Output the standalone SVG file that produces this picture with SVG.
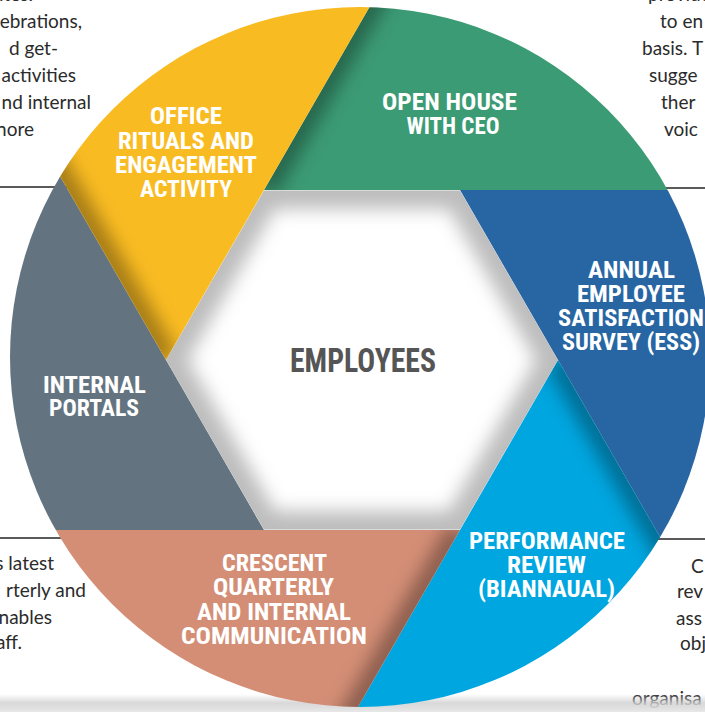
<svg xmlns="http://www.w3.org/2000/svg" width="705" height="712" viewBox="0 0 705 712">
<style>
.lbl{font-family:"Roboto Condensed","Liberation Sans Narrow",Roboto,"Liberation Sans",sans-serif;font-weight:700;font-size:23.5px;fill:#ffffff;text-anchor:middle}
.ctr{font-family:"Roboto Condensed","Liberation Sans Narrow",Roboto,"Liberation Sans",sans-serif;font-weight:700;font-size:34px;fill:#555555;text-anchor:middle}
.side{font-family:Lato,"Noto Sans","Liberation Sans",sans-serif;font-size:19px;fill:#2b2b2b}
.sep{stroke:#5a5a5a;stroke-width:2}
.shd{stroke:#000;stroke-opacity:0.35;stroke-width:26;fill:none}
</style>
<defs>
<clipPath id="circ"><circle cx="360" cy="357" r="350"/></clipPath>
<clipPath id="hexclip"><polygon points="264,190.3 460,190.3 558,360 460,529.7 264,529.7 166,360"/></clipPath>
<clipPath id="cg"><polygon points="264,190 558,-320 1000,-320 1000,190 460,190"/></clipPath>
<clipPath id="cb"><polygon points="460,190 1000,190 1000,870 852,870 558,360"/></clipPath>
<clipPath id="cc"><polygon points="558,360 852,870 852,1040 166,1040 460,530"/></clipPath>
<clipPath id="cs"><polygon points="460,530 166,1040 -300,1040 -300,530 264,530"/></clipPath>
<clipPath id="cy2"><polygon points="264,530 -300,530 -300,-150 -128,-150 166,360"/></clipPath>
<clipPath id="co"><polygon points="166,360 -128,-150 -128,-320 558,-320 264,190"/></clipPath>
<filter id="blur" x="-50%" y="-50%" width="200%" height="200%"><feGaussianBlur stdDeviation="9"/></filter>
<filter id="blur2" x="-20%" y="-20%" width="140%" height="140%"><feGaussianBlur stdDeviation="9"/></filter>
<linearGradient id="bottomShade" x1="0" y1="0" x2="0" y2="1">
<stop offset="0" stop-color="#d0d0d0" stop-opacity="0"/>
<stop offset="0.5" stop-color="#cfcfcf" stop-opacity="0.8"/>
<stop offset="1" stop-color="#e8e8e8" stop-opacity="1"/>
</linearGradient>
</defs>
<rect width="705" height="712" fill="#ffffff"/>

<g id="side-text">
<line class="sep" x1="0" y1="187" x2="70" y2="187"/>
<line class="sep" x1="650" y1="188" x2="705" y2="188"/>
<line class="sep" x1="0" y1="538" x2="70" y2="538"/>
<line class="sep" x1="640" y1="539" x2="705" y2="539"/>
<text class="side" x="33" y="1" text-anchor="end">sites.</text>
<text class="side" x="82" y="28" text-anchor="end">ebrations,</text>
<text class="side" x="58" y="55" text-anchor="end">d get-</text>
<text class="side" x="76" y="82" text-anchor="end">activities</text>
<text class="side" x="91" y="109" text-anchor="end">nd internal</text>
<text class="side" x="34" y="136" text-anchor="end">nore</text>
<text class="side" x="648" y="1">provide</text>
<text class="side" x="660" y="28">to en</text>
<text class="side" x="642" y="55">basis. T</text>
<text class="side" x="649" y="82">sugge</text>
<text class="side" x="661" y="109">ther</text>
<text class="side" x="664" y="136">voic</text>
<text class="side" x="54" y="570" text-anchor="end">s latest</text>
<text class="side" x="86" y="597" text-anchor="end">rterly and</text>
<text class="side" x="52" y="624" text-anchor="end">nables</text>
<text class="side" x="22" y="649" text-anchor="end">aff.</text>
<text class="side" x="691" y="573">C</text>
<text class="side" x="677" y="598">rev</text>
<text class="side" x="676" y="625">ass</text>
<text class="side" x="680" y="650">obj</text>
<text class="side" x="632" y="705">organisa</text>
</g>

<rect x="0" y="694" width="705" height="18" fill="url(#bottomShade)"/>

<g id="wheel" clip-path="url(#circ)">
<g id="seg-open-house">
<polygon points="264,190 558,-320 1000,-320 1000,190 460,190" fill="#3b9b74"/>
<g clip-path="url(#cg)"><line class="shd" x1="264" y1="190" x2="558" y2="-320" filter="url(#blur)"/></g>
<text class="lbl" x="449.5" y="110" textLength="135" lengthAdjust="spacingAndGlyphs">OPEN HOUSE</text>
<text class="lbl" x="453" y="134" textLength="93" lengthAdjust="spacingAndGlyphs">WITH CEO</text>
</g>
<g id="seg-ess">
<polygon points="460,190 1000,190 1000,870 852,870 558,360" fill="#2766a3"/>
<g clip-path="url(#cb)"><line class="shd" x1="460" y1="190" x2="1000" y2="190" filter="url(#blur)"/></g>
<text class="lbl" x="631.5" y="278" textLength="87" lengthAdjust="spacingAndGlyphs">ANNUAL</text>
<text class="lbl" x="631" y="302" textLength="108" lengthAdjust="spacingAndGlyphs">EMPLOYEE</text>
<text class="lbl" x="631" y="326" textLength="146" lengthAdjust="spacingAndGlyphs">SATISFACTION</text>
<text class="lbl" x="631" y="350" textLength="138" lengthAdjust="spacingAndGlyphs">SURVEY (ESS)</text>
</g>
<g id="seg-performance">
<polygon points="558,360 852,870 852,1040 166,1040 460,530" fill="#00a6e0"/>
<g clip-path="url(#cc)"><line class="shd" x1="558" y1="360" x2="852" y2="870" filter="url(#blur)" stroke-opacity="0.2"/></g>
<text class="lbl" x="547" y="549" textLength="156" lengthAdjust="spacingAndGlyphs">PERFORMANCE</text>
<text class="lbl" x="546.5" y="573" textLength="79" lengthAdjust="spacingAndGlyphs">REVIEW</text>
<text class="lbl" x="546.5" y="597" textLength="137" lengthAdjust="spacingAndGlyphs">(BIANNAUAL)</text>
</g>
<g id="seg-crescent">
<polygon points="460,530 166,1040 -300,1040 -300,530 264,530" fill="#d48e76"/>
<g clip-path="url(#cs)"><line class="shd" x1="460" y1="530" x2="166" y2="1040" filter="url(#blur)"/></g>
<text class="lbl" x="274.5" y="571" textLength="105" lengthAdjust="spacingAndGlyphs">CRESCENT</text>
<text class="lbl" x="273.5" y="595" textLength="121" lengthAdjust="spacingAndGlyphs">QUARTERLY</text>
<text class="lbl" x="274" y="620" textLength="154" lengthAdjust="spacingAndGlyphs">AND INTERNAL</text>
<text class="lbl" x="274" y="644" textLength="186" lengthAdjust="spacingAndGlyphs">COMMUNICATION</text>
</g>
<g id="seg-portals">
<polygon points="264,530 -300,530 -300,-150 -128,-150 166,360" fill="#637480"/>
<g clip-path="url(#cy2)"><line class="shd" x1="264" y1="530" x2="-300" y2="530" filter="url(#blur)"/></g>
<text class="lbl" x="94.5" y="393" textLength="103" lengthAdjust="spacingAndGlyphs">INTERNAL</text>
<text class="lbl" x="94" y="416" textLength="90" lengthAdjust="spacingAndGlyphs">PORTALS</text>
</g>
<g id="seg-office">
<polygon points="166,360 -128,-150 -128,-320 558,-320 264,190" fill="#f9bb22"/>
<g clip-path="url(#co)"><line class="shd" x1="166" y1="360" x2="-128" y2="-150" filter="url(#blur)"/></g>
<text class="lbl" x="186" y="124" textLength="72" lengthAdjust="spacingAndGlyphs">OFFICE</text>
<text class="lbl" x="186" y="149" textLength="136" lengthAdjust="spacingAndGlyphs">RITUALS AND</text>
<text class="lbl" x="186" y="173" textLength="142" lengthAdjust="spacingAndGlyphs">ENGAGEMENT</text>
<text class="lbl" x="186" y="197" textLength="92" lengthAdjust="spacingAndGlyphs">ACTIVITY</text>
</g>
</g>

<g id="employees">
<g clip-path="url(#hexclip)">
<polygon points="264,190.3 460,190.3 558,360 460,529.7 264,529.7 166,360" fill="#bdbdbd"/>
<polygon points="275,209 449,209 536,360 449,511 275,511 188,360" fill="#ffffff" filter="url(#blur2)"/>
</g>
<text class="ctr" x="363" y="372" textLength="146" lengthAdjust="spacingAndGlyphs">EMPLOYEES</text>
</g>
</svg>
